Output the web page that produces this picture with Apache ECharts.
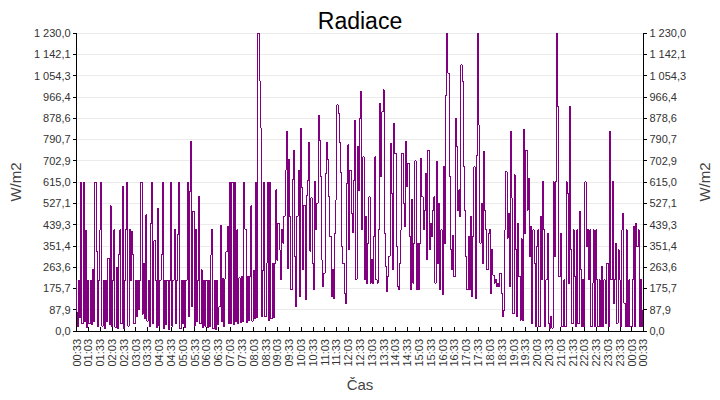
<!DOCTYPE html>
<html>
<head>
<meta charset="utf-8">
<script src="https://cdn.jsdelivr.net/npm/echarts@6/dist/echarts.min.js"></script>
<style>
  html, body { margin: 0; padding: 0; background: #fff; }
  #chart { width: 720px; height: 400px; }
  #chart path { shape-rendering: crispEdges; }
</style>
</head>
<body>
<div id="chart"></div>
<script>
// one reading every 3 minutes, starting 00:33
var stepMinutes = 3

// 00:33 - 06:33
var radNight = [
  210, 20, 210, 55, 615, 30, 615, 40, 413, 15,
  210, 30, 210, 25, 252, 40, 615, 330, 20, 210,
  417, 615, 20, 210, 10, 210, 40, 300, 25, 516,
  20, 210, 417, 15, 264, 10, 314, 417, 30, 598,
  10, 210, 420, 615, 20, 420, 210, 410, 314, 30,
  210, 60, 210, 90, 210, 615, 70, 280, 50, 479,
  40, 210, 20, 442, 615, 30, 373, 210, 15, 507,
  20, 210, 314, 615, 10, 210, 25, 210, 5, 210,
  615, 20, 210, 420, 30, 210, 400, 615, 10, 210,
  30, 210, 15, 210, 615, 60, 574, 784, 100, 495,
  20, 420, 40, 210, 557, 30, 252, 15, 210, 20,
  210, 15, 210, 20, 314, 420, 10, 210, 5, 210
]
// 06:33 - 12:33
var radMorning = [
  25, 100, 437, 40, 215, 20, 215, 327, 430, 30,
  615, 30, 615, 25, 615, 40, 417, 30, 220, 35,
  225, 40, 615, 420, 35, 225, 45, 225, 516, 40,
  250, 50, 615, 55, 1230, 1032, 838, 60, 250, 615,
  60, 280, 615, 45, 615, 50, 280, 55, 280, 582,
  293, 445, 335, 212, 417, 363, 473, 664, 825, 259,
  706, 473, 170, 624, 745, 308, 100, 473, 664, 142,
  835, 592, 253, 520, 128, 560, 620, 780, 330, 550,
  279, 170, 618, 418, 527, 891, 788, 637, 293, 184,
  239, 651, 780, 706, 555, 390, 142, 253, 135, 403,
  541, 933, 898, 776, 655, 348, 279, 156, 115, 610,
  768, 335, 664, 486, 407, 623, 870, 213, 762, 580
]
// 12:33 - 18:33
var radAfternoon = [
  878, 988, 417, 719, 211, 472, 198, 362, 554, 198,
  294, 198, 390, 719, 211, 198, 417, 940, 637, 905,
  995, 403, 266, 163, 225, 308, 775, 568, 253, 858,
  733, 349, 184, 170, 280, 417, 733, 527, 431, 782,
  596, 692, 390, 170, 541, 198, 362, 702, 170, 362,
  170, 362, 712, 554, 417, 499, 651, 294, 747, 335,
  445, 390, 499, 554, 198, 699, 280, 527, 170, 417,
  149, 678, 362, 974, 1230, 1063, 637, 335, 253, 396,
  225, 878, 761, 499, 582, 472, 1098, 1030, 678, 499,
  308, 170, 390, 170, 472, 142, 390, 678, 135, 726,
  1230, 850, 362, 527, 280, 740, 499, 417, 253, 403,
  417, 156, 335, 230, 198, 211, 184, 198, 184, 239
]
// 18:33 - 00:33
var radEvening = [
  156, 59, 86, 417, 658, 383, 486, 184, 823, 548,
  72, 644, 335, 59, 445, 225, 45, 380, 42, 830,
  403, 747, 499, 630, 308, 431, 31, 417, 280, 18,
  349, 417, 18, 472, 211, 616, 417, 18, 211, 403,
  31, 11, 59, 11, 616, 308, 616, 1230, 926, 225,
  403, 18, 18, 211, 18, 616, 568, 198, 926, 335,
  31, 417, 225, 18, 417, 31, 493, 253, 18, 211,
  18, 616, 349, 417, 211, 417, 18, 198, 417, 18,
  417, 211, 18, 211, 18, 266, 18, 211, 31, 280,
  280, 18, 823, 211, 616, 114, 211, 362, 31, 335,
  211, 18, 417, 486, 114, 18, 417, 18, 211, 18,
  18, 211, 431, 18, 445, 349, 417, 18, 211, 18, 86
]

var timeLabels = [
  "00:33", "01:03", "01:33", "02:03", "02:33", "03:03", "03:33", "04:03",
  "04:33", "05:03", "05:33", "06:03", "06:33", "07:03", "07:33", "08:03",
  "08:33", "09:03", "09:33", "10:03", "10:33", "11:03", "11:33", "12:03",
  "12:33", "13:03", "13:33", "14:03", "14:33", "15:03", "15:33", "16:03",
  "16:33", "17:03", "17:33", "18:03", "18:33", "19:03", "19:33", "20:03",
  "20:33", "21:03", "21:33", "22:03", "22:33", "23:03", "23:33", "00:03",
  "00:33"
]

var yLabels = [
  "0,0", "87,9", "175,7", "263,6", "351,4", "439,3", "527,1", "615,0",
  "702,9", "790,7", "878,6", "966,4", "1 054,3", "1 142,1", "1 230,0"
]

var yMax = 1230
var yStep = yMax / 14

var radiation = radNight.concat(radMorning, radAfternoon, radEvening)
var seriesData = radiation.map(function (v, i) {
  return [i * stepMinutes, v]
})

var font = "Liberation Sans, Arial, sans-serif"

function yAxisOpt(pos) {
  return {
    type: "value",
    position: pos,
    min: 0,
    max: yMax,
    interval: yStep,
    name: "W/m2",
    nameLocation: "middle",
    nameGap: 52,
    nameTextStyle: { fontSize: 15, color: "#444", fontFamily: font },
    axisLine: { show: true, lineStyle: { color: "#000", width: 1 } },
    axisTick: { show: true, length: 4, lineStyle: { color: "#000" } },
    axisLabel: {
      fontSize: 11,
      color: "#333",
      margin: 6,
      fontFamily: font,
      formatter: function (v) {
        return yLabels[Math.round(v / yStep)]
      },
    },
    splitLine: {
      show: pos === "left",
      lineStyle: { color: "#ebebeb", width: 1 },
    },
  }
}

// svg so the css above can switch off antialiasing on the trace
var chart = echarts.init(document.getElementById("chart"), null, { renderer: "svg" })

var option = {
  animation: false,
  backgroundColor: "#fff",
  title: {
    text: "Radiace",
    left: "center",
    top: 4,
    textStyle: { fontSize: 23, fontWeight: "normal", color: "#000", fontFamily: font },
  },
  grid: {
    left: 76,
    right: 76,
    top: 33,
    bottom: 69,
    show: true,
    borderColor: "#000",
    borderWidth: 1,
  },
  xAxis: {
    type: "value",
    min: 0,
    max: 1440,
    interval: 30,
    name: "Čas",
    nameLocation: "middle",
    nameGap: 46,
    nameTextStyle: { fontSize: 15, color: "#444", fontFamily: font },
    axisLine: { show: true, lineStyle: { color: "#000", width: 1 } },
    axisTick: { show: true, inside: true, length: 4, lineStyle: { color: "#000" } },
    axisLabel: {
      rotate: 90,
      fontSize: 11,
      color: "#333",
      margin: 8,
      fontFamily: font,
      formatter: function (v) {
        return timeLabels[Math.round(v / 30)]
      },
    },
    splitLine: { show: false },
  },
  yAxis: [yAxisOpt("left"), yAxisOpt("right")],
  series: [
    {
      name: "Radiace",
      type: "line",
      data: seriesData,
      step: "middle",
      showSymbol: false,
      sampling: false,
      lineStyle: { color: "#800080", width: 1 },
      itemStyle: { color: "#800080" },
    },
  ],
}

chart.setOption(option)
</script>
</body>
</html>
